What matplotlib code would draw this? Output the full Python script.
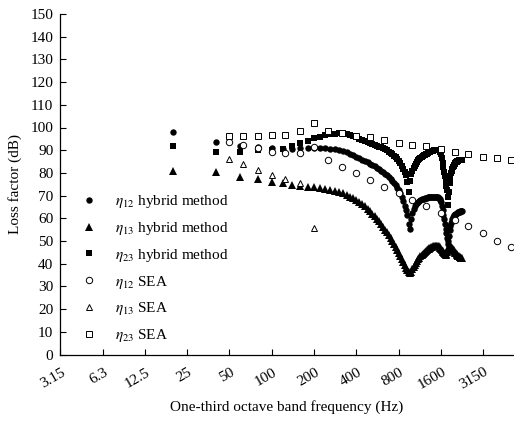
import numpy as np
import matplotlib
matplotlib.use("Agg")
import matplotlib.pyplot as plt
from matplotlib.transforms import ScaledTranslation

plt.rcParams['font.family'] = ['Liberation Serif', 'DejaVu Serif']
plt.rcParams['mathtext.fontset'] = 'stix'

# ---------------- data ----------------
f_hybrid = np.arange(20, 2241, 20)

eta12_hybrid = [
    97.8, 93.4, 91.8, 91.2, 90.8, 90.6, 90.6, 90.8, 91.0, 91.0,
    91.0, 90.9, 90.7, 90.4, 90.0, 89.6, 89.1, 88.5, 87.8, 87.1,
    86.5, 85.9, 85.3, 84.7, 84.1, 83.5, 82.9, 82.3, 81.6, 81.0,
    80.3, 79.6, 78.9, 78.1, 77.3, 76.5, 75.6, 74.6, 73.5, 72.4,
    71.1, 69.6, 67.8, 65.5, 63.5, 61.5, 57.5, 55.2, 59.8, 62.5,
    64.0, 65.2, 66.1, 66.8, 67.3, 67.7, 68.0, 68.3, 68.5, 68.7,
    68.9, 69.0, 69.1, 69.2, 69.3, 69.4, 69.5, 69.5, 69.6, 69.6,
    69.6, 69.6, 69.6, 69.5, 69.4, 69.3, 69.0, 68.6, 68.0, 67.0,
    65.5, 63.5, 61.5, 59.5, 57.5, 55.5, 53.5, 51.5, 50.0, 48.5,
    52.0, 55.0, 56.8, 58.0, 59.0, 59.8, 60.4, 60.9, 61.3, 61.6,
    61.9, 62.1, 62.3, 62.5, 62.6, 62.7, 62.8, 62.9, 63.0, 63.0,
    63.0, 63.0,
]

eta13_hybrid = [
    80.9, 80.4, 78.4, 77.3, 76.0, 75.5, 74.8, 74.3, 74.0, 73.7,
    73.4, 73.0, 72.6, 72.1, 71.6, 71.0, 70.3, 69.6, 68.8, 68.0,
    67.1, 66.2, 65.2, 64.2, 63.1, 62.0, 60.9, 59.8, 58.6, 57.4,
    56.2, 55.0, 53.8, 52.5, 51.2, 49.9, 48.6, 47.3, 46.0, 44.7,
    43.4, 42.1, 40.8, 39.5, 38.3, 37.1, 36.2, 35.8, 36.5, 37.5,
    38.5, 39.5, 40.4, 41.2, 42.0, 42.7, 43.3, 43.9, 44.4, 44.9,
    45.3, 45.7, 46.0, 46.3, 46.6, 46.9, 47.1, 47.3, 47.5, 47.6,
    47.8, 47.9, 48.0, 48.0, 48.0, 47.9, 47.7, 47.4, 47.0, 46.5,
    46.0, 45.5, 45.0, 44.5, 44.2, 44.0, 44.3, 45.0, 46.0, 46.8,
    47.3, 47.6, 47.6, 47.4, 47.1, 46.7, 46.3, 45.9, 45.5, 45.1,
    44.8, 44.5, 44.2, 43.9, 43.6, 43.4, 43.2, 43.0, 42.8, 42.6,
    42.4, 42.3,
]

eta23_hybrid = [
    91.7, 89.0, 89.2, 89.9, 90.2, 90.6, 91.8, 93.0, 94.2, 95.2,
    96.0, 96.6, 97.0, 97.3, 97.5, 97.4, 97.2, 96.8, 96.3, 95.7,
    95.1, 94.6, 94.1, 93.6, 93.2, 92.8, 92.4, 92.0, 91.6, 91.2,
    90.8, 90.4, 89.9, 89.4, 88.9, 88.3, 87.6, 86.9, 86.1, 85.2,
    84.2, 83.1, 81.9, 80.6, 79.2, 75.8, 71.4, 76.5, 79.5, 81.0,
    82.0, 83.0, 84.0, 84.8, 85.5, 86.1, 86.6, 87.0, 87.4, 87.7,
    88.0, 88.3, 88.5, 88.8, 89.0, 89.2, 89.4, 89.5, 89.7, 89.8,
    89.9, 90.0, 90.1, 90.2, 90.2, 90.2, 90.1, 89.8, 89.2, 88.2,
    86.5, 84.5, 82.6, 80.5, 78.5, 76.2, 74.2, 72.6, 69.5, 66.0,
    71.5, 75.5, 78.0, 79.8, 81.0, 81.9, 82.6, 83.2, 83.7, 84.1,
    84.4, 84.7, 84.9, 85.1, 85.3, 85.4, 85.5, 85.6, 85.7, 85.8,
    85.8, 85.9,
]

f_sea = [50, 63, 80, 100, 125, 160, 200, 250, 315, 400, 500, 630,
         800, 1000, 1250, 1600, 2000, 2500, 3150, 4000, 5000]
eta12_sea = [93.4, 92.4, 91.0, 89.0, 88.7, 88.7, 91.4, 85.5, 82.8, 79.9, 77.0,
             74.0, 71.1, 68.2, 65.2, 62.3, 59.3, 56.4, 53.5, 50.2, 47.3]
eta23_sea = [96.4, 96.4, 96.4, 96.8, 96.8, 98.3, 102.2, 98.3, 97.5, 96.4, 95.8,
             94.6, 93.2, 92.4, 91.7, 90.5, 89.2, 88.3, 87.0, 86.6, 85.8]
f_sea13 = [50, 63, 80, 100, 125, 160, 200]
eta13_sea = [86.1, 84.0, 81.4, 79.2, 77.3, 75.5, 55.7]

tick_freqs = [3.15, 6.3, 12.5, 25, 50, 100, 200, 400, 800, 1600, 3150]
tick_labels = ['3.15', '6.3', '12.5', '25', '50', '100', '200', '400', '800', '1600', '3150']

# ---------------- figure ----------------
W, H = 514, 421
fig = plt.figure(figsize=(W / 100, H / 100), dpi=100)
x0, x1, y0, y1 = 60.3, 513.5, 354.5, 14.0
ax = fig.add_axes([x0 / W, 1 - y0 / H, (x1 - x0) / W, (y0 - y1) / H])

ax.set_xscale('log')
ax.set_xlim(3.15, 5220)
ax.set_ylim(0, 150)

ax.plot(f_hybrid, eta12_hybrid, 'o', color='black', ms=4.6, mew=0, label=r'$\eta_{12}$ hybrid method')
ax.plot(f_hybrid, eta13_hybrid, '^', color='black', ms=5.4, mew=0, label=r'$\eta_{13}$ hybrid method')
ax.plot(f_hybrid, eta23_hybrid, 's', color='black', ms=4.3, mew=0, label=r'$\eta_{23}$ hybrid method')
ax.plot(f_sea, eta12_sea, 'o', mfc='white', mec='black', ms=4.6, mew=0.7, label=r'$\eta_{12}$ SEA')
ax.plot(f_sea13, eta13_sea, '^', mfc='white', mec='black', ms=5.0, mew=0.7, label=r'$\eta_{13}$ SEA')
ax.plot(f_sea, eta23_sea, 's', mfc='white', mec='black', ms=4.3, mew=0.7, label=r'$\eta_{23}$ SEA')

ax.spines['top'].set_visible(False)
ax.spines['right'].set_visible(False)
ax.spines['left'].set_linewidth(0.9)
ax.spines['bottom'].set_linewidth(0.9)

ax.set_xticks(tick_freqs)
ax.set_xticklabels(tick_labels, rotation=30, ha='right', va='center', rotation_mode='anchor')
ax.xaxis.set_minor_locator(matplotlib.ticker.NullLocator())
ax.set_yticks(np.arange(0, 151, 10))
ax.tick_params(axis='both', direction='in', length=4, width=0.8, labelsize=11)
ax.tick_params(axis='x', pad=12)
ax.tick_params(axis='y', pad=5)

shift = ScaledTranslation(4 / 100, 0, fig.dpi_scale_trans)
for lbl in ax.get_xticklabels():
    lbl.set_transform(lbl.get_transform() + shift)

ax.set_ylabel('Loss factor (dB)', fontsize=11, labelpad=6)
ax.set_xlabel('One-third octave band frequency (Hz)', fontsize=11, labelpad=6)

ax.legend(loc='upper left', bbox_to_anchor=(0.0466, 0.473), frameon=False,
          fontsize=11, handlelength=1.0, handletextpad=1.2, labelspacing=0.635,
          borderpad=0, borderaxespad=0, numpoints=1)

fig.savefig('out.png', dpi=100)
